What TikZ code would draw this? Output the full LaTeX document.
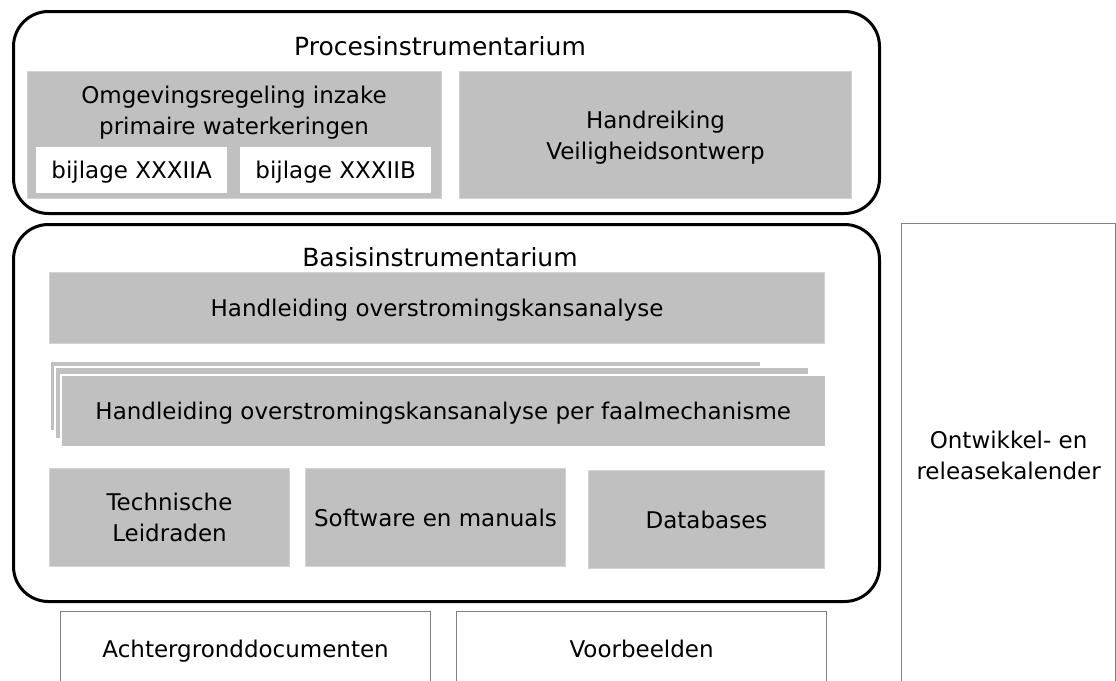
\documentclass[tikz,border=0pt]{standalone}
\usepackage{fontspec}
\setmainfont{DejaVu Sans}
\usepackage{tikz}
\definecolor{boxgrey}{RGB}{192,192,192}
\definecolor{edgegrey}{RGB}{128,128,128}

\tikzset{
    groupbox/.style={draw=black, line width=3pt, rounded corners=35pt, inner sep=0pt, anchor=north west},
    greybox/.style={fill=boxgrey, draw=boxgrey!70!white, line width=1pt, inner sep=0pt, anchor=north west},
    sheet/.style={fill=boxgrey, draw=white, line width=1.5pt, inner sep=0pt, anchor=north west},
    whitebox/.style={fill=white, inner sep=0pt, anchor=north west},
    plainbox/.style={draw=edgegrey, line width=1.2pt, fill=white, inner sep=0pt, anchor=north west},
    label/.style={align=center, inner sep=0pt, text depth=0pt, font=\fontsize{23}{31}\selectfont},
    title/.style={inner sep=0pt, font=\fontsize{25}{30}\selectfont}
}

\begin{document}
\begin{tikzpicture}[x=1pt, y=-1pt]
            \useasboundingbox (0,0) rectangle (1116,680);
            \clip (0,0) rectangle (1116,680);
            % procesinstrumentarium
            \node[groupbox, minimum width=866, minimum height=202] (proces) at (12,10) {};
            \node[title] (procestitle) at (440,46) {Procesinstrumentarium};
            \node[greybox, minimum width=414, minimum height=127] (omgeving) at (27,71) {};
            \node[label] (omgevingtext) at (234,110) {Omgevingsregeling inzake\\primaire waterkeringen};
            \node[whitebox, minimum width=191, minimum height=46] (bijlageA) at (36,147) {};
            \node[label] at (bijlageA.center) {bijlage XXXIIA};
            \node[whitebox, minimum width=191, minimum height=46] (bijlageB) at (240,147) {};
            \node[label] at (bijlageB.center) {bijlage XXXIIB};
            \node[greybox, minimum width=392, minimum height=127, label] (handreiking) at (459,71) {Handreiking\\Veiligheidsontwerp};
            % basisinstrumentarium
            \node[groupbox, minimum width=866, minimum height=377] (basis) at (12,223) {};
            \node[title] (basistitle) at (440,257) {Basisinstrumentarium};
            \node[greybox, minimum width=775, minimum height=71, label] (handleiding) at (49,272) {Handleiding overstromingskansanalyse};
            \node[sheet, minimum width=711, minimum height=70] (sheetback) at (49,360) {};
            \node[sheet, minimum width=754, minimum height=72] (sheetmid) at (54,366) {};
            \node[sheet, minimum width=765, minimum height=72, label] (faal) at (60,374) {Handleiding overstromingskansanalyse per faalmechanisme};
            \node[greybox, minimum width=240, minimum height=98, label] (leidraden) at (49,468) {Technische\\Leidraden};
            \node[greybox, minimum width=260, minimum height=98, label] (software) at (305,468) {Software en manuals};
            \node[greybox, minimum width=236, minimum height=98, label] (databases) at (588,470) {Databases};
            % onder en rechts
            \node[plainbox, minimum width=370, minimum height=74, label] (achtergrond) at (60,611) {Achtergronddocumenten};
            \node[plainbox, minimum width=370, minimum height=74, label] (voorbeelden) at (456,611) {Voorbeelden};
            \node[plainbox, minimum width=214, minimum height=464, label] (kalender) at (901,223) {Ontwikkel- en\\releasekalender};
        \end{tikzpicture}
\end{document}
